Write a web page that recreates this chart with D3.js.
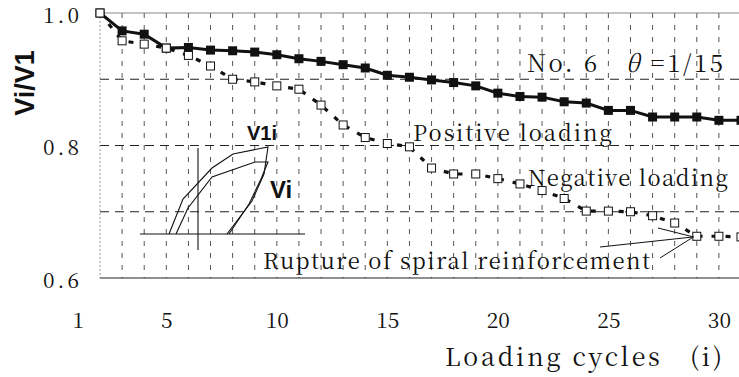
<!DOCTYPE html>
<html>
<head>
<meta charset="utf-8">
<script src="https://cdn.jsdelivr.net/npm/d3@7"></script>
<style>
  html, body { margin: 0; padding: 0; background: #fff; }
  svg { display: block; }
</style>
</head>
<body>
<div id="chart"></div>
<script>
// loading cycles (first plotted point is cycle 2)
const cycles = d3.range(2, 32);

// Vi/V1 ratio, positive loading (filled squares)
const positiveValues = [
  1.000, 0.973, 0.968, 0.947, 0.948, 0.944, 0.943, 0.941, 0.937, 0.931,
  0.927, 0.922, 0.917, 0.906, 0.903, 0.899, 0.895, 0.890, 0.879, 0.874,
  0.873, 0.866, 0.864, 0.853, 0.853, 0.843, 0.843, 0.843, 0.838, 0.838
];

// Vi/V1 ratio, negative loading (open squares)
const negativeValues = [
  1.000, 0.958, 0.953, 0.947, 0.936, 0.920, 0.900, 0.896, 0.890, 0.885,
  0.861, 0.831, 0.812, 0.803, 0.798, 0.766, 0.757, 0.757, 0.750, 0.742,
  0.732, 0.720, 0.701, 0.701, 0.700, 0.694, 0.683, 0.663, 0.663, 0.662
];

const xTickValues = [1, 5, 10, 15, 20, 25, 30];
const yTickValues = [0.6, 0.8, 1.0];
const yDashedLines = [0.7, 0.8, 0.9];

const width = 739, height = 377;

const svg = d3.select('#chart').append('svg')
  .attr('width', width)
  .attr('height', height);

const x = d3.scaleLinear().domain([2, 31]).range([100, 741]);
const y = d3.scaleLinear().domain([0.6, 1.0]).range([278, 13]);

const serif = '"Noto Serif CJK JP", "Liberation Serif", serif';
const sans = '"Liberation Sans", Arial, sans-serif';

// vertical grid (one per cycle)
svg.append('g')
  .selectAll('line')
  .data(d3.range(3, 32))
  .join('line')
  .attr('x1', d => x(d)).attr('x2', d => x(d))
  .attr('y1', y(1.0)).attr('y2', y(0.6))
  .attr('stroke', '#555')
  .attr('stroke-width', 1)
  .attr('stroke-dasharray', '5,7');

// horizontal dashed lines
svg.append('g')
  .selectAll('line')
  .data(yDashedLines)
  .join('line')
  .attr('x1', x(2)).attr('x2', width)
  .attr('y1', d => y(d)).attr('y2', d => y(d))
  .attr('stroke', '#222')
  .attr('stroke-width', 1.2)
  .attr('stroke-dasharray', '9,6');

// frame lines
svg.append('line')
  .attr('x1', x(2)).attr('x2', width)
  .attr('y1', y(1.0)).attr('y2', y(1.0))
  .attr('stroke', '#888').attr('stroke-width', 1.2);
svg.append('line')
  .attr('x1', x(2)).attr('x2', x(2))
  .attr('y1', y(1.0)).attr('y2', y(0.6))
  .attr('stroke', '#999').attr('stroke-width', 1)
  .attr('stroke-dasharray', '2,2');
svg.append('line')
  .attr('x1', x(2)).attr('x2', width)
  .attr('y1', y(0.6)).attr('y2', y(0.6))
  .attr('stroke', '#222').attr('stroke-width', 1.2);

// x axis labels
const xAxis = svg.append('g')
  .attr('transform', 'translate(0,320)')
  .call(d3.axisBottom(x).tickValues(xTickValues).tickSize(0).tickPadding(0).tickFormat(d3.format('d')));
xAxis.select('.domain').remove();
xAxis.selectAll('text')
  .attr('dy', '0.36em')
  .style('font-family', serif)
  .style('font-size', '21px')
  .style('fill', '#111');

// y axis labels
const yAxis = svg.append('g')
  .attr('transform', 'translate(100,0)')
  .call(d3.axisLeft(y).tickValues(yTickValues).tickSize(0).tickPadding(18).tickFormat(d3.format('.1f')));
yAxis.select('.domain').remove();
yAxis.selectAll('text')
  .attr('dy', '0.45em')
  .style('font-family', serif)
  .style('font-size', '21px')
  .style('letter-spacing', '3px')
  .style('fill', '#111');

// axis titles
svg.append('text')
  .attr('transform', 'translate(34,83) rotate(-90)')
  .attr('text-anchor', 'middle')
  .style('font-family', sans)
  .style('font-weight', 'bold')
  .style('font-size', '27px')
  .style('fill', '#111')
  .text('Vi/V1');

const fitText = (sel, len) => sel
  .attr('textLength', len)
  .attr('lengthAdjust', 'spacing')
  .attr('xml:space', 'preserve')
  .style('font-family', serif)
  .style('fill', '#111');

svg.append('text')
  .attr('x', 445).attr('y', 366)
  .style('font-size', '25px')
  .call(fitText, 277)
  .text('Loading cycles   (i)');

// inset: hysteresis sketch (pixel offsets from its own origin)
const inset = svg.append('g').attr('transform', 'translate(140,234)');
const sketchLine = d3.line();
const insetPaths = [
  [[0, 0], [165, 0]],
  [[58, -86], [58, 16]],
  [[29, 0], [43, -35], [72, -66], [93, -80], [128, -87], [124, -60], [112, -33], [87, 0]],
  [[36, 0], [48, -26], [72, -57], [115, -72], [128, -72], [121, -55], [109, -30], [89, 0]]
];
inset.selectAll('path')
  .data(insetPaths)
  .join('path')
  .attr('d', d => sketchLine(d))
  .attr('fill', 'none')
  .attr('stroke', '#111')
  .attr('stroke-width', 1.1);
inset.append('text')
  .attr('x', 107).attr('y', -94)
  .style('font-family', sans)
  .style('font-weight', 'bold')
  .style('font-size', '20px')
  .style('fill', '#111')
  .text('V1i');
inset.append('text')
  .attr('x', 130).attr('y', -36)
  .style('font-family', sans)
  .style('font-weight', 'bold')
  .style('font-size', '24px')
  .style('fill', '#111')
  .text('Vi');

// series
const posData = cycles.map((c, i) => ({ c, v: positiveValues[i] }));
const negData = cycles.map((c, i) => ({ c, v: negativeValues[i] }));
const line = d3.line().x(d => x(d.c)).y(d => y(d.v));

svg.append('path')
  .datum(negData)
  .attr('d', line)
  .attr('fill', 'none')
  .attr('stroke', '#111')
  .attr('stroke-width', 3.2)
  .attr('stroke-dasharray', '5,9');

svg.append('path')
  .datum(posData)
  .attr('d', line)
  .attr('fill', 'none')
  .attr('stroke', '#111')
  .attr('stroke-width', 3);

svg.append('g')
  .selectAll('rect')
  .data(posData)
  .join('rect')
  .attr('x', d => x(d.c) - 4.5)
  .attr('y', d => y(d.v) - 4.5)
  .attr('width', 9).attr('height', 9)
  .attr('fill', '#111');

svg.append('g')
  .selectAll('rect')
  .data(negData)
  .join('rect')
  .attr('x', d => x(d.c) - 4)
  .attr('y', d => y(d.v) - 4)
  .attr('width', 8).attr('height', 8)
  .attr('fill', '#fff')
  .attr('stroke', '#111')
  .attr('stroke-width', 1);

// annotations
const title = svg.append('text').attr('x', 527).attr('y', 72)
  .style('font-size', '24px')
  .call(fitText, 196);
title.append('tspan').text('No. 6   ');
title.append('tspan').style('font-style', 'italic').text('θ');
title.append('tspan').text(' =1/15');

svg.append('text').attr('x', 413).attr('y', 141).style('font-size', '22px').call(fitText, 199).text('Positive loading');
svg.append('text').attr('x', 528).attr('y', 186).style('font-size', '22px').call(fitText, 200).text('Negative loading');
svg.append('text').attr('x', 263).attr('y', 269).style('font-size', '22px').call(fitText, 387).text('Rupture of spiral reinforcement');

// arrow to rupture point
const tip = [x(28.85), y(0.662)];
svg.append('path')
  .attr('d', d3.line()([[600, 247], tip]))
  .attr('stroke', '#111').attr('stroke-width', 1).attr('fill', 'none');
svg.append('path')
  .attr('d', d3.line()([[658, 228], tip, [660, 258]]))
  .attr('stroke', '#111').attr('stroke-width', 1).attr('fill', 'none');
</script>
</body>
</html>
